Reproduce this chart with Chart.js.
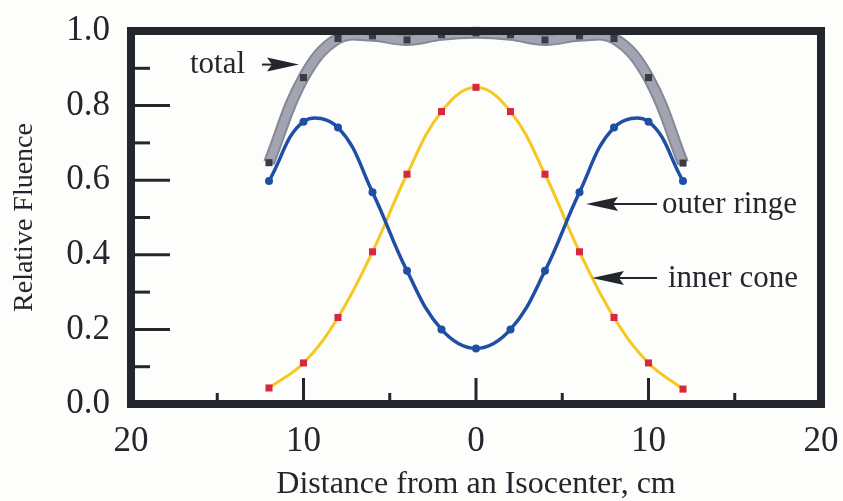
<!DOCTYPE html>
<html>
<head>
<meta charset="utf-8">
<script src="https://cdn.jsdelivr.net/npm/chart.js@4.4.1/dist/chart.umd.min.js"></script>
<style>
  html, body { margin: 0; padding: 0; background: #fdfdfb; }
  #wrap { position: relative; width: 843px; height: 501px; }
</style>
</head>
<body>
<div id="wrap"><canvas id="fluenceChart" width="843" height="501"></canvas></div>
<script>
// distance from isocenter (cm)
const xCm = [-12, -10, -8, -6, -4, -2, 0, 2, 4, 6, 8, 10, 12];
const totalFluence = [0.647, 0.875, 0.980, 0.987, 0.976, 0.990, 0.995, 0.990, 0.976, 0.987, 0.980, 0.875, 0.646];
const outerRinge = [0.598, 0.757, 0.741, 0.568, 0.357, 0.200, 0.149, 0.200, 0.357, 0.568, 0.741, 0.757, 0.598];
const innerCone = [0.043, 0.110, 0.232, 0.408, 0.616, 0.784, 0.849, 0.784, 0.616, 0.408, 0.232, 0.110, 0.040];

const xTicks = [-20, -10, 0, 10, 20];
const yTicks = [0.0, 0.2, 0.4, 0.6, 0.8, 1.0];

// labels with arrows (data units)
const callouts = [
    { text: 'total', textX: -13.39, textY: 0.887, align: 'right', tipX: -10.26, tipY: 0.91, tailX: -12.41 },
    { text: 'outer ringe', textX: 10.78, textY: 0.512, align: 'left', tipX: 6.38, tipY: 0.536, tailX: 10.49 },
    { text: 'inner cone', textX: 11.13, textY: 0.314, align: 'left', tipX: 6.72, tipY: 0.338, tailX: 10.49 }
];

const SERIF = '"Liberation Serif", "DejaVu Serif", serif';
const INK = '#24262d';

function pts(ys) {
    return xCm.map((x, i) => ({ x: x, y: ys[i] }));
}

// frame, inside ticks and arrow labels
const framePlugin = {
    id: 'frame',
    afterDatasetsDraw(chart) {
        const ctx = chart.ctx;
        const a = chart.chartArea;
        const xs = chart.scales.x;
        const ys = chart.scales.y;
        ctx.save();
        ctx.strokeStyle = INK;
        ctx.lineWidth = 3;
        // y ticks (major every 0.2, minor every 0.1)
        for (let i = 1; i < 10; i++) {
            const py = ys.getPixelForValue(i / 10);
            const len = (i % 2 === 0) ? 39 : 19;
            ctx.beginPath();
            ctx.moveTo(a.left, py);
            ctx.lineTo(a.left + len, py);
            ctx.stroke();
        }
        // x ticks (major every 10, minor every 5)
        for (let v = -15; v <= 15; v += 5) {
            const px = xs.getPixelForValue(v);
            const len = (v % 10 === 0) ? 26 : 11;
            ctx.beginPath();
            ctx.moveTo(px, a.bottom);
            ctx.lineTo(px, a.bottom - len);
            ctx.stroke();
        }
        // frame
        ctx.lineWidth = 8;
        ctx.strokeRect(a.left, a.top, a.right - a.left, a.bottom - a.top);

        // callouts
        ctx.fillStyle = INK;
        ctx.font = '31px ' + SERIF;
        ctx.textBaseline = 'alphabetic';
        callouts.forEach(c => {
            const tx = xs.getPixelForValue(c.textX);
            const ty = ys.getPixelForValue(c.textY);
            ctx.textAlign = c.align;
            ctx.fillText(c.text, tx, ty);

            const tipX = xs.getPixelForValue(c.tipX);
            const tipY = ys.getPixelForValue(c.tipY);
            const tailX = xs.getPixelForValue(c.tailX);
            const dir = tailX > tipX ? 1 : -1;
            const headLen = 32;
            ctx.lineWidth = 2;
            ctx.beginPath();
            ctx.moveTo(tailX, tipY);
            ctx.lineTo(tipX + dir * (headLen - 6), tipY);
            ctx.stroke();
            ctx.beginPath();
            ctx.moveTo(tipX, tipY);
            ctx.lineTo(tipX + dir * headLen, tipY - 7);
            ctx.lineTo(tipX + dir * (headLen - 5), tipY);
            ctx.lineTo(tipX + dir * headLen, tipY + 7);
            ctx.closePath();
            ctx.fill();
        });
        ctx.restore();
    }
};

const bgPlugin = {
    id: 'bg',
    beforeDraw(chart) {
        const ctx = chart.ctx;
        ctx.save();
        ctx.fillStyle = '#fdfdfb';
        ctx.fillRect(0, 0, chart.width, chart.height);
        ctx.restore();
    }
};

const ctx = document.getElementById('fluenceChart').getContext('2d');

new Chart(ctx, {
    type: 'line',
    data: {
        datasets: [
            {
                label: 'total (edge)',
                data: pts(totalFluence),
                borderColor: '#858896',
                borderWidth: 12,
                pointRadius: 0,
                tension: 0.4,
                clip: false,
                order: 4
            },
            {
                label: 'total',
                data: pts(totalFluence),
                borderColor: '#a2a4b1',
                borderWidth: 8,
                pointStyle: 'rect',
                pointRadius: 5,
                pointBackgroundColor: '#3a3c45',
                pointBorderColor: '#3a3c45',
                pointBorderWidth: 0,
                tension: 0.4,
                clip: false,
                order: 3
            },
            {
                label: 'inner cone',
                data: pts(innerCone),
                borderColor: '#f6c81f',
                borderWidth: 3,
                pointStyle: 'rect',
                pointRadius: 5,
                pointBackgroundColor: '#d6283e',
                pointBorderColor: '#d6283e',
                pointBorderWidth: 0,
                tension: 0.4,
                order: 2
            },
            {
                label: 'outer ringe',
                data: pts(outerRinge),
                borderColor: '#1f4fa5',
                borderWidth: 3.5,
                pointStyle: 'circle',
                pointRadius: 4,
                pointBackgroundColor: '#1f4fa5',
                pointBorderColor: '#1f4fa5',
                pointBorderWidth: 0,
                tension: 0.4,
                order: 1
            }
        ]
    },
    options: {
        responsive: false,
        animation: false,
        events: [],
        layout: {
            padding: { top: 31, right: 22, left: 0, bottom: 0 }
        },
        plugins: {
            legend: { display: false },
            tooltip: { enabled: false }
        },
        scales: {
            x: {
                type: 'linear',
                min: -20,
                max: 20,
                afterBuildTicks: function(scale) {
                    scale.ticks = xTicks.map(v => ({ value: v }));
                },
                afterFit: function(scale) {
                    scale.height = 97;
                    scale.paddingLeft = 0;
                    scale.paddingRight = 0;
                },
                grid: { display: false, drawTicks: false },
                border: { display: false },
                ticks: {
                    color: INK,
                    padding: 17,
                    maxRotation: 0,
                    font: { family: SERIF, size: 35 },
                    callback: function(v) { return String(Math.abs(v)); }
                },
                title: {
                    display: true,
                    text: 'Distance from an Isocenter, cm',
                    color: INK,
                    font: { family: SERIF, size: 32 },
                    padding: { top: 0, bottom: -3 }
                }
            },
            y: {
                min: 0,
                max: 1,
                afterBuildTicks: function(scale) {
                    scale.ticks = yTicks.map(v => ({ value: v }));
                },
                afterFit: function(scale) {
                    scale.width = 131;
                    scale.paddingTop = 0;
                    scale.paddingBottom = 0;
                },
                grid: { display: false, drawTicks: false },
                border: { display: false },
                ticks: {
                    color: INK,
                    padding: 21,
                    font: { family: SERIF, size: 35 },
                    callback: function(v) { return Number(v).toFixed(1); }
                },
                title: {
                    display: true,
                    text: 'Relative Fluence',
                    color: INK,
                    font: { family: SERIF, size: 28 },
                    padding: { top: 8, bottom: 0 }
                }
            }
        }
    },
    plugins: [bgPlugin, framePlugin]
});
</script>
</body>
</html>
